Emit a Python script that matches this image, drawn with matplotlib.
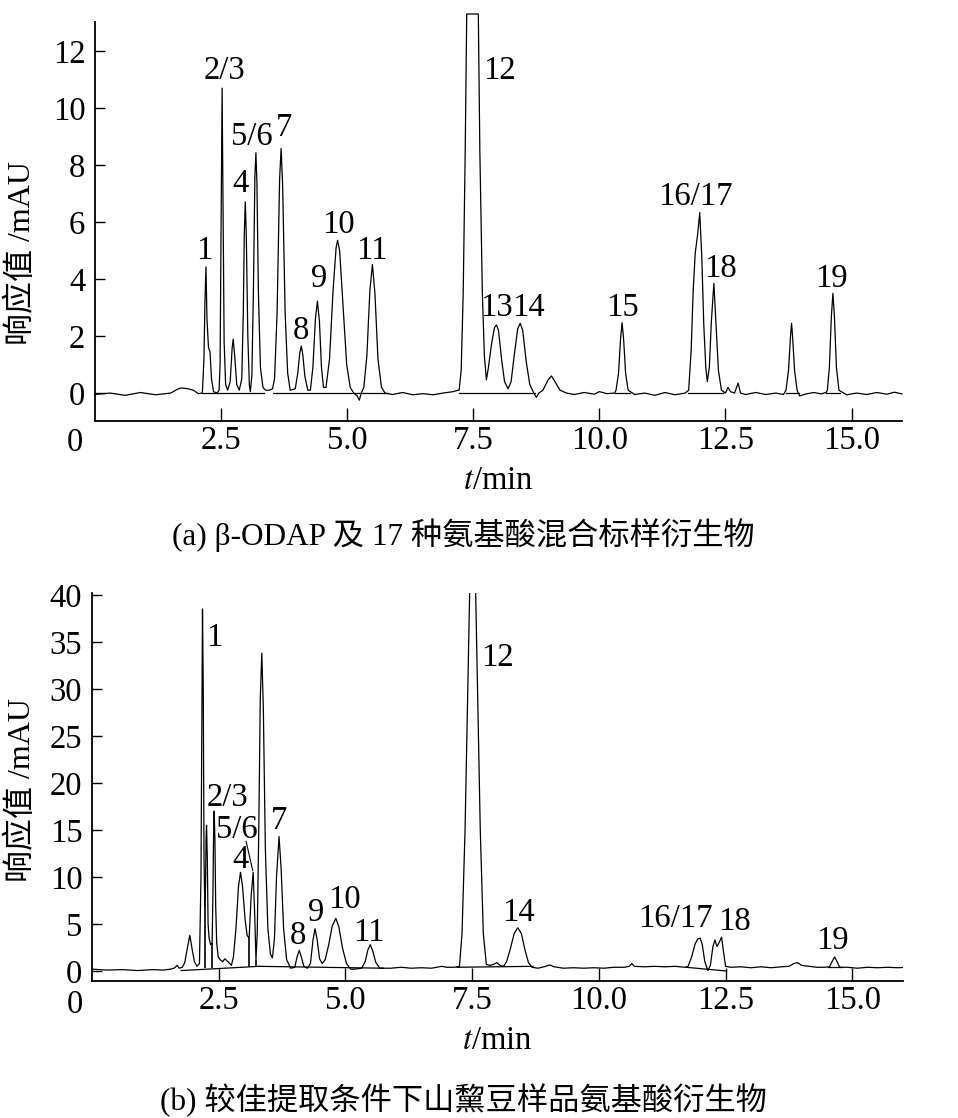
import numpy as np
import matplotlib

matplotlib.use('Agg')
import matplotlib.pyplot as plt

plt.rcParams['font.family'] = ['Liberation Serif', 'Noto Sans CJK SC']
plt.rcParams['mathtext.fontset'] = 'stix'

# ---- (a) standard mixture: trace vertices ----
t_a = [0.0, 0.3, 0.6, 0.9, 1.2, 1.5, 1.62, 1.7, 1.85, 1.95, 2.05, 2.12,
       2.13, 2.16, 2.18, 2.20, 2.22, 2.25, 2.28, 2.31, 2.35, 2.42, 2.46,
       2.48, 2.50, 2.52, 2.54, 2.56, 2.59, 2.63,
       2.68, 2.72, 2.74, 2.77, 2.81, 2.86,
       2.91, 2.94, 2.96, 2.98, 3.00, 3.03, 3.06, 3.08,
       3.11, 3.14, 3.17, 3.19, 3.21, 3.24, 3.28, 3.33, 3.38, 3.45, 3.52,
       3.56, 3.61, 3.66, 3.69, 3.72, 3.77, 3.82, 3.87,
       3.97, 4.02, 4.06, 4.09, 4.12, 4.16, 4.22,
       4.27, 4.32, 4.37, 4.41, 4.45, 4.49, 4.53,
       4.58, 4.65, 4.72, 4.78, 4.81, 4.85, 4.92, 4.99, 5.06, 5.13,
       5.20, 5.24, 5.28,
       5.33, 5.39, 5.45, 5.50, 5.55, 5.61, 5.68, 5.75,
       5.9, 6.1, 6.3, 6.5, 6.7, 6.9, 7.1, 7.2,
       7.22, 7.26, 7.30, 7.34, 7.37, 7.60, 7.63, 7.68, 7.72, 7.76,
       7.80, 7.86, 7.92, 7.96, 8.00, 8.06, 8.12, 8.19,
       8.25, 8.31, 8.38, 8.43, 8.48, 8.55, 8.62, 8.70, 8.75, 8.80,
       8.88, 8.98, 9.05, 9.12, 9.22, 9.35,
       9.5, 9.7, 9.9, 10.0, 10.15, 10.3,
       10.33, 10.38, 10.42, 10.45, 10.48, 10.52, 10.57,
       10.7, 10.9, 11.1, 11.3, 11.5, 11.7,
       11.77, 11.82, 11.86, 11.90, 11.95, 11.99, 12.03, 12.07, 12.11, 12.14,
       12.18, 12.22, 12.27, 12.31, 12.36, 12.42,
       12.50, 12.55, 12.60, 12.68, 12.75, 12.80,
       12.9, 13.1, 13.3, 13.5, 13.65,
       13.70, 13.75, 13.79, 13.81, 13.83, 13.87, 13.92, 13.97,
       14.1, 14.25, 14.4, 14.5,
       14.52, 14.56, 14.60, 14.63, 14.66, 14.70, 14.75,
       14.9, 15.1, 15.3, 15.5, 15.7, 15.85, 16.0]
y_a = [-0.05, 0.0, -0.08, 0.02, -0.06, 0.0, 0.12, 0.18, 0.15, 0.1, -0.02, 0.0,
       0.05, 1.2, 3.2, 4.43, 2.6, 1.6, 1.45, 0.5, 0.05, 0.0, 0.1,
       1.0, 6.0, 10.7, 6.0, 1.8, 0.3, 0.1,
       0.4, 1.6, 1.89, 1.3, 0.3, 0.1,
       0.5, 2.8, 5.6, 6.71, 5.5, 2.0, 0.3, 0.05,
       0.6, 3.5, 7.6, 8.43, 7.4, 3.5, 0.9, 0.2, 0.1, 0.1, 0.15,
       0.5, 2.8, 7.5, 8.58, 7.3, 2.8, 0.7, 0.1,
       0.15, 0.7, 1.4, 1.65, 1.35, 0.6, 0.1,
       0.1, 0.9, 2.6, 3.23, 2.5, 0.9, 0.2,
       0.2, 1.2, 3.6, 5.1, 5.36, 5.0, 3.0, 1.0, 0.2, 0.0,
       -0.1, -0.25, 0.0,
       0.2, 1.3, 3.6, 4.51, 3.5, 1.2, 0.2, 0.0,
       -0.05, 0.02, -0.06, -0.02, -0.06, 0.0, 0.05, 0.1,
       0.1, 0.8, 3.5, 8.5, 13.3, 13.3, 8.5, 3.5, 1.3, 0.46,
       0.9, 1.7, 2.3, 2.39, 2.2, 1.2, 0.4, 0.15,
       0.4, 1.3, 2.25, 2.45, 2.2, 1.1, 0.3, 0.0, -0.15, 0.0,
       0.1, 0.45, 0.6, 0.4, 0.1, 0.0,
       -0.05, 0.02, -0.04, 0.05, -0.02, 0.0,
       0.1, 0.7, 1.9, 2.47, 1.9, 0.7, 0.1,
       -0.05, 0.0, -0.08, 0.02, -0.06, 0.0,
       0.1, 1.5, 3.6, 4.9, 5.6, 6.33, 4.8, 2.4, 0.9, 0.4,
       0.9, 2.5, 3.85, 2.5, 0.8, 0.1,
       0.0, 0.2, 0.05, 0.0, 0.35, 0.0,
       -0.05, 0.02, -0.05, 0.0, -0.05,
       0.1, 0.8, 2.0, 2.45, 2.0, 0.8, 0.1, -0.1,
       -0.03, 0.02, -0.03, 0.03,
       0.1, 0.9, 2.7, 3.5, 2.7, 0.9, 0.1,
       -0.06, 0.0, -0.05, 0.02, -0.04, 0.03, -0.03]

# integration baselines (a)
base_a_t0 = [2.12, 3.53, 7.22, 10.30, 11.75, 13.70, 14.50]
base_a_t1 = [3.36, 5.80, 8.72, 10.60, 12.45, 13.95, 14.78]

lab_a = ['1', '2/3', '4', '5/6', '7', '8', '9', '10', '11', '12',
         '13', '14', '15', '16/17', '18', '19']
lab_a_t = [2.16, 2.56, 2.89, 3.11, 3.75, 4.09, 4.45, 4.83, 5.49, 8.02,
           7.96, 8.59, 10.46, 11.90, 12.40, 14.60]
lab_a_y = [5.0, 11.3, 7.35, 9.0, 9.3, 2.2, 4.0, 5.9, 5.0, 11.3,
           3.0, 3.0, 3.0, 6.9, 4.35, 4.0]

# ---- (b) Lathyrus sample ----
t_b = [0.0, 0.3, 0.6, 0.9, 1.2, 1.4, 1.55, 1.62, 1.68, 1.72, 1.78,
       1.83, 1.88, 1.93, 1.97, 2.02, 2.07,
       2.12, 2.15, 2.17, 2.18, 2.195, 2.21, 2.225,
       2.24, 2.25, 2.26, 2.275, 2.29, 2.31, 2.34, 2.37,
       2.385, 2.40, 2.41, 2.425, 2.44, 2.46, 2.49, 2.53, 2.58, 2.62, 2.66, 2.70, 2.75,
       2.79, 2.84, 2.89, 2.93, 2.97, 3.02, 3.06, 3.10,
       3.14, 3.18, 3.21, 3.235,
       3.26, 3.29, 3.32, 3.35, 3.38, 3.42, 3.47, 3.52, 3.56,
       3.60, 3.64, 3.69, 3.73, 3.78, 3.84, 3.92,
       4.00, 4.05, 4.09, 4.13, 4.18, 4.25,
       4.31, 4.36, 4.40, 4.44, 4.49, 4.54,
       4.60, 4.67, 4.74, 4.81, 4.87, 4.94, 5.02, 5.10, 5.18,
       5.32, 5.39, 5.44, 5.49, 5.54, 5.60, 5.68,
       5.9, 6.1, 6.3, 6.5, 6.7, 6.9, 7.0, 7.15,
       7.25, 7.30, 7.36, 7.45, 7.51, 7.57, 7.66, 7.72, 7.78,
       7.85, 7.92, 7.99, 8.05, 8.12,
       8.18, 8.25, 8.33, 8.40, 8.47, 8.54, 8.61, 8.68,
       8.8, 8.95, 9.03, 9.12, 9.3, 9.5, 9.7, 9.9, 10.1, 10.3, 10.5, 10.6,
       10.65, 10.7, 10.9, 11.1, 11.3, 11.5, 11.7,
       11.76, 11.83, 11.90, 11.95, 12.00, 12.04, 12.09, 12.15,
       12.20, 12.25, 12.29, 12.33, 12.37, 12.42, 12.46, 12.50,
       12.6, 12.8, 13.0, 13.2, 13.4, 13.6, 13.75, 13.85, 13.92, 14.0,
       14.15, 14.3, 14.45, 14.55,
       14.60, 14.65, 14.70, 14.75,
       14.9, 15.1, 15.3, 15.5, 15.7, 15.9, 16.05]
y_b = [0.2, 0.1, 0.15, 0.05, 0.15, 0.1, 0.2, 0.3, 0.6, 0.3, 0.4,
       0.9, 2.4, 3.8, 2.5, 1.0, 0.5,
       0.8, 10.0, 30.0, 38.5, 30.0, 12.0, 7.0,
       9.0, 14.0, 15.5, 12.0, 5.0, 3.5, 2.8, 3.0,
       8.0, 15.0, 17.0, 14.0, 7.0, 3.0, 1.5, 1.2, 1.0, 1.3, 1.1, 0.9, 0.6,
       1.5, 4.5, 9.0, 10.5, 9.0, 5.5, 3.8, 3.5,
       8.0, 10.5, 6.0, 1.2,
       4.0, 15.0, 29.0, 33.8, 28.0, 13.0, 4.5, 1.8, 1.4,
       3.5, 10.0, 14.3, 11.0, 4.5, 1.2, 0.3,
       0.4, 1.6, 2.2, 1.5, 0.5, 0.3,
       0.8, 3.3, 4.5, 3.4, 1.3, 0.8,
       1.2, 2.8, 4.8, 5.6, 4.7, 2.5, 0.8, 0.2, 0.2,
       0.3, 1.0, 2.2, 2.8, 2.1, 0.9, 0.3,
       0.3, 0.4, 0.3, 0.35, 0.3, 0.5, 0.4, 0.4,
       0.5, 4.0, 15.0, 40.0, 51.0, 40.0, 15.0, 4.0, 0.7,
       0.6, 0.7, 0.9, 0.6, 0.5,
       1.0, 2.3, 4.0, 4.6, 4.0, 2.3, 0.9, 0.4,
       0.3, 0.5, 0.65, 0.45, 0.3, 0.35, 0.3, 0.35, 0.3, 0.4, 0.4, 0.5,
       0.8, 0.5, 0.45, 0.5, 0.45, 0.5, 0.4,
       0.5, 1.5, 2.9, 3.4, 3.5, 2.8, 1.0, 0.05,
       0.6, 2.6, 3.3, 2.6, 3.0, 3.6, 2.0, 0.5,
       0.4, 0.45, 0.35, 0.45, 0.35, 0.45, 0.5, 0.8, 0.9, 0.6,
       0.5, 0.4, 0.4, 0.45,
       1.0, 1.5, 1.0, 0.4,
       0.4, 0.3, 0.4, 0.35, 0.4, 0.35, 0.4]

# integration baselines (b): start/end time and level
base_b_t0 = [1.76, 3.30, 7.20, 11.72, 14.52]
base_b_t1 = [3.30, 5.75, 8.70, 12.52, 14.80]
base_b_y0 = [0.05, 0.50, 0.40, 0.40, 0.40]
base_b_y1 = [0.50, 0.30, 0.50, 0.00, 0.40]

# drop lines (b)
drop_b_t = [2.225, 2.37, 3.10, 3.235]
drop_b_lo = [0.30, 0.35, 0.45, 0.50]
drop_b_hi = [7.0, 3.0, 3.5, 1.2]

lab_b = ['1', '2/3', '5/6', '4', '7', '8', '9', '10', '11', '12',
         '14', '16/17', '18', '19']
lab_b_t = [2.42, 2.67, 2.86, 2.93, 3.70, 4.07, 4.42, 4.98, 5.47, 8.00,
           8.41, 11.51, 12.67, 14.61]
lab_b_y = [35.4, 18.4, 15.0, 11.8, 16.0, 3.8, 6.2, 7.6, 4.1, 33.3,
           6.2, 5.6, 5.2, 3.2]

xticks = [2.5, 5.0, 7.5, 10.0, 12.5, 15.0]
xtick_labels = ['2.5', '5.0', '7.5', '10.0', '12.5', '15.0']

W, H = 958, 1118
fig = plt.figure(figsize=(W / 100, H / 100), dpi=100)
ax_a = fig.add_axes([95 / W, 1 - 421 / H, (902 - 95) / W, (421 - 22) / H])
ax_b = fig.add_axes([92 / W, 1 - 981 / H, (903 - 92) / W, (981 - 593) / H])

fs = 23.5


def style_axes(ax, ylim, yticks):
    ax.set_xlim(0, 16)
    ax.set_ylim(*ylim)
    for s in ['top', 'right']:
        ax.spines[s].set_visible(False)
    for s in ['left', 'bottom']:
        ax.spines[s].set_linewidth(1.3)
    ax.set_xticks(xticks)
    ax.set_xticklabels(xtick_labels)
    ax.set_yticks(yticks)
    ax.tick_params(axis='x', direction='in', length=9.5, width=1.0,
                   labelsize=fs, pad=3)
    ax.tick_params(axis='y', direction='in', length=7, width=1.0,
                   labelsize=fs, pad=7)
    ax.set_xlabel('$t$/min', fontsize=fs, labelpad=7)


# panel a
ax_a.plot(t_a, y_a, color='black', lw=0.9, clip_on=False)
for t0, t1 in zip(base_a_t0, base_a_t1):
    ax_a.plot([t0, t1], [0, 0], color='black', lw=0.9)
for s, tx, ty in zip(lab_a, lab_a_t, lab_a_y):
    ax_a.text(tx, ty, s, fontsize=fs, ha='center', va='center')
style_axes(ax_a, (-0.98, 13.02), [0, 2, 4, 6, 8, 10, 12])
ax_a.text(-0.025, -0.055, '0', transform=ax_a.transAxes, fontsize=fs,
          ha='center', va='center')

# panel b
ax_b.plot(t_b, y_b, color='black', lw=0.9)
for t0, t1, y0, y1 in zip(base_b_t0, base_b_t1, base_b_y0, base_b_y1):
    ax_b.plot([t0, t1], [y0, y1], color='black', lw=0.9)
ax_b.vlines(drop_b_t, drop_b_lo, drop_b_hi, color='black', lw=1.2)
ax_b.plot([3.04, 3.17], [13.8, 10.7], color='black', lw=0.8)
for s, tx, ty in zip(lab_b, lab_b_t, lab_b_y):
    ax_b.text(tx, ty, s, fontsize=fs, ha='center', va='center')
style_axes(ax_b, (-1.06, 40.2), [0, 5, 10, 15, 20, 25, 30, 35, 40])
ax_b.text(-0.021, -0.062, '0', transform=ax_b.transAxes, fontsize=fs,
          ha='center', va='center')

# axis titles and captions
fig.text(22 / W, 1 - 253 / H, '响应值 /mAU', rotation=90, fontsize=23,
         ha='center', va='center')
fig.text(22 / W, 1 - 790 / H, '响应值 /mAU', rotation=90, fontsize=23,
         ha='center', va='center')
fig.text(463 / W, 1 - 535 / H, '(a) β-ODAP 及 17 种氨基酸混合标样衍生物',
         fontsize=22.5, ha='center', va='center')
fig.text(463 / W, 1 - 1100 / H, '(b) 较佳提取条件下山黧豆样品氨基酸衍生物',
         fontsize=22.5, ha='center', va='center')

fig.savefig('out.png', dpi=100)
